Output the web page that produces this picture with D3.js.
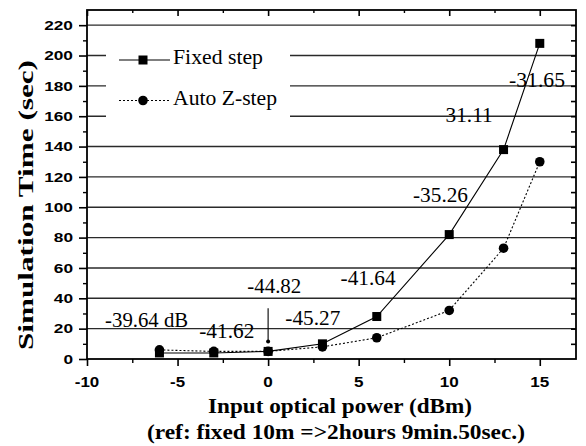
<!DOCTYPE html>
<html>
<head>
<meta charset="utf-8">
<script src="https://cdn.jsdelivr.net/npm/d3@7/dist/d3.min.js"></script>
<style>
  html, body { margin: 0; padding: 0; background: #fff; }
  svg { display: block; }
</style>
</head>
<body>
<svg id="chart" width="586" height="446"></svg>
<script>
// Input optical power (dBm)
const power = [-6, -3, 0, 3, 6, 10, 13, 15];
// Simulation time (sec)
const fixedStep = [4, 4, 5, 10, 28, 82, 138, 208];
const autoZStep = [6, 5, 5, 8, 14, 32, 73, 130];

const xTicks = [-10, -5, 0, 5, 10, 15];
const yTicks = [0, 20, 40, 60, 80, 100, 120, 140, 160, 180, 200, 220];
const gridValues = [20, 40, 60, 80, 100, 120, 140, 160, 180, 200, 220];

// Per-segment annotations (text, anchor x in dBm, anchor y in sec)
const noteText = ["-39.64 dB", "-41.62", "-44.82", "-45.27", "-41.64", "-35.26", "31.11", "-31.65"];
const noteX = [-9.0, -3.8, -1.15, 0.95, 4.0, 8.0, 9.8, 13.3];
const noteY = [20.8, 13.6, 43.4, 22.4, 48.8, 103.5, 156.3, 179.3];
const noteW = [83, 55, 54, 55, 55, 55, 47, 56];

const legendLabels = ["Fixed step", "Auto Z-step"];

const svg = d3.select("#chart");
const x = d3.scaleLinear().domain([-10, 17]).range([87, 576]);
const y = d3.scaleLinear().domain([0, 230]).range([359, 10]);

const serif = "'Liberation Serif', 'Times New Roman', serif";
const sans = "'Liberation Sans', Arial, sans-serif";

// horizontal grid
svg.append("g").selectAll("line").data(gridValues).join("line")
  .attr("x1", x(-10)).attr("x2", x(17))
  .attr("y1", d => y(d)).attr("y2", d => y(d))
  .attr("stroke", "#2a2a2a").attr("stroke-width", 1.4);

// legend box (white patch over the grid)
const lg = svg.append("g");
lg.append("rect").attr("x", 106).attr("y", 40).attr("width", 184).attr("height", 88).attr("fill", "#fff");

// frame
svg.append("rect").attr("x", x(-10)).attr("y", y(230))
  .attr("width", x(17) - x(-10)).attr("height", y(0) - y(230))
  .attr("fill", "none").attr("stroke", "#000").attr("stroke-width", 1.8);

// bottom axis
const xAxisB = svg.append("g").attr("transform", `translate(0,${y(0)})`)
  .call(d3.axisBottom(x).tickValues(xTicks).tickSize(7).tickFormat(""));
xAxisB.select(".domain").remove();
xAxisB.selectAll("line").attr("stroke-width", 1.6);
svg.append("g").attr("transform", `translate(0,${y(0)})`)
  .call(d3.axisBottom(x).tickValues(d3.range(-7.5, 17, 5)).tickSize(4).tickFormat(""))
  .call(g => g.select(".domain").remove())
  .selectAll("line").attr("stroke-width", 1.4);
svg.append("g").selectAll("text").data(xTicks).join("text")
  .attr("x", d => x(d)).attr("y", 387)
  .attr("text-anchor", "middle")
  .attr("font-family", sans).attr("font-weight", "bold").attr("font-size", 14)
  .attr("textLength", d => String(d).length * 9.5 - (d < 0 ? 4 : 0))
  .attr("lengthAdjust", "spacingAndGlyphs")
  .text(d => d);

// top axis (inward ticks)
svg.append("g").attr("transform", `translate(0,${y(230)})`)
  .call(d3.axisTop(x).tickValues(d3.range(-10, 17, 5)).tickSize(-6).tickFormat(""))
  .call(g => g.select(".domain").remove())
  .selectAll("line").attr("stroke-width", 1.6);
svg.append("g").attr("transform", `translate(0,${y(230)})`)
  .call(d3.axisTop(x).tickValues(d3.range(-7.5, 17, 5)).tickSize(-3).tickFormat(""))
  .call(g => g.select(".domain").remove())
  .selectAll("line").attr("stroke-width", 1.4);

// left axis
svg.append("g").attr("transform", `translate(${x(-10)},0)`)
  .call(d3.axisLeft(y).tickValues(yTicks).tickSize(8).tickFormat(""))
  .call(g => g.select(".domain").remove())
  .selectAll("line").attr("stroke-width", 1.6);
svg.append("g").attr("transform", `translate(${x(-10)},0)`)
  .call(d3.axisLeft(y).tickValues(d3.range(10, 230, 20)).tickSize(4).tickFormat(""))
  .call(g => g.select(".domain").remove())
  .selectAll("line").attr("stroke-width", 1.4);
svg.append("g").selectAll("text").data(yTicks).join("text")
  .attr("x", 73).attr("y", d => y(d)).attr("dy", "0.36em")
  .attr("text-anchor", "end")
  .attr("font-family", sans).attr("font-weight", "bold").attr("font-size", 13)
  .attr("textLength", d => String(d).length * 9.6)
  .attr("lengthAdjust", "spacingAndGlyphs")
  .text(d => d);

// right axis (inward ticks)
svg.append("g").attr("transform", `translate(${x(17)},0)`)
  .call(d3.axisRight(y).tickValues(d3.range(10, 230, 10)).tickSize(-5).tickFormat(""))
  .call(g => g.select(".domain").remove())
  .selectAll("line").attr("stroke-width", 1.6);

// series lines
const line = d3.line().x((d, i) => x(power[i])).y(d => y(d));
svg.append("path").datum(autoZStep).attr("d", line)
  .attr("fill", "none").attr("stroke", "#000").attr("stroke-width", 1.1)
  .attr("stroke-dasharray", "2,2");
svg.append("path").datum(fixedStep).attr("d", line)
  .attr("fill", "none").attr("stroke", "#000").attr("stroke-width", 1.1);

// markers
svg.append("g").selectAll("circle").data(autoZStep).join("circle")
  .attr("cx", (d, i) => x(power[i])).attr("cy", d => y(d)).attr("r", 4.8).attr("fill", "#000");
svg.append("g").selectAll("rect").data(fixedStep).join("rect")
  .attr("x", (d, i) => x(power[i]) - 4.5).attr("y", d => y(d) - 4.5)
  .attr("width", 9).attr("height", 9).attr("fill", "#000");

// arrow at 0 dBm
svg.append("defs").append("marker").attr("id", "arrowHead")
  .attr("viewBox", "0 0 6 6").attr("refX", 3).attr("refY", 5)
  .attr("markerWidth", 6).attr("markerHeight", 6).attr("orient", "auto-start-reverse")
  .append("path").attr("d", "M0,0 L3,6 L6,0 Z").attr("fill", "#000");
svg.append("line")
  .attr("x1", x(0)).attr("x2", x(0)).attr("y1", y(33.5)).attr("y2", y(11))
  .attr("stroke", "#000").attr("stroke-width", 1.1);
svg.append("circle").attr("cx", x(0)).attr("cy", y(11.5)).attr("r", 2).attr("fill", "#000");

// annotations
svg.append("g").selectAll("text").data(noteText).join("text")
  .attr("x", (d, i) => x(noteX[i])).attr("y", (d, i) => y(noteY[i]))
  .attr("font-family", serif).attr("font-size", 21)
  .attr("textLength", (d, i) => noteW[i]).attr("lengthAdjust", "spacingAndGlyphs")
  .text(d => d);

// legend entries
const legendY = [60, 100.5];
legendLabels.forEach((lab, i) => {
  lg.append("line").attr("x1", 119).attr("x2", 170).attr("y1", legendY[i]).attr("y2", legendY[i])
    .attr("stroke", "#000").attr("stroke-width", 1.1)
    .attr("stroke-dasharray", i === 1 ? "2,2" : null);
  if (i === 0) {
    lg.append("rect").attr("x", 143 - 4.5).attr("y", legendY[i] - 4.5).attr("width", 9).attr("height", 9).attr("fill", "#000");
  } else {
    lg.append("circle").attr("cx", 143).attr("cy", legendY[i]).attr("r", 4.8).attr("fill", "#000");
  }
  lg.append("text").attr("x", 173).attr("y", legendY[i] + 4)
    .attr("font-family", serif).attr("font-size", 20)
    .attr("textLength", i === 0 ? 90 : 104).attr("lengthAdjust", "spacingAndGlyphs")
    .text(lab);
});

// axis titles
svg.append("text")
  .attr("transform", "translate(33,205) rotate(-90)")
  .attr("text-anchor", "middle")
  .attr("font-family", serif).attr("font-weight", "bold").attr("font-size", 22)
  .attr("textLength", 290).attr("lengthAdjust", "spacingAndGlyphs")
  .text("Simulation Time (sec)");
svg.append("text").attr("x", 340).attr("y", 413)
  .attr("text-anchor", "middle")
  .attr("font-family", serif).attr("font-weight", "bold").attr("font-size", 21)
  .attr("textLength", 264).attr("lengthAdjust", "spacingAndGlyphs")
  .text("Input optical power (dBm)");
svg.append("text").attr("x", 336).attr("y", 439)
  .attr("text-anchor", "middle")
  .attr("font-family", serif).attr("font-weight", "bold").attr("font-size", 20)
  .attr("textLength", 378).attr("lengthAdjust", "spacingAndGlyphs")
  .text("(ref: fixed 10m =>2hours 9min.50sec.)");
</script>
</body>
</html>
